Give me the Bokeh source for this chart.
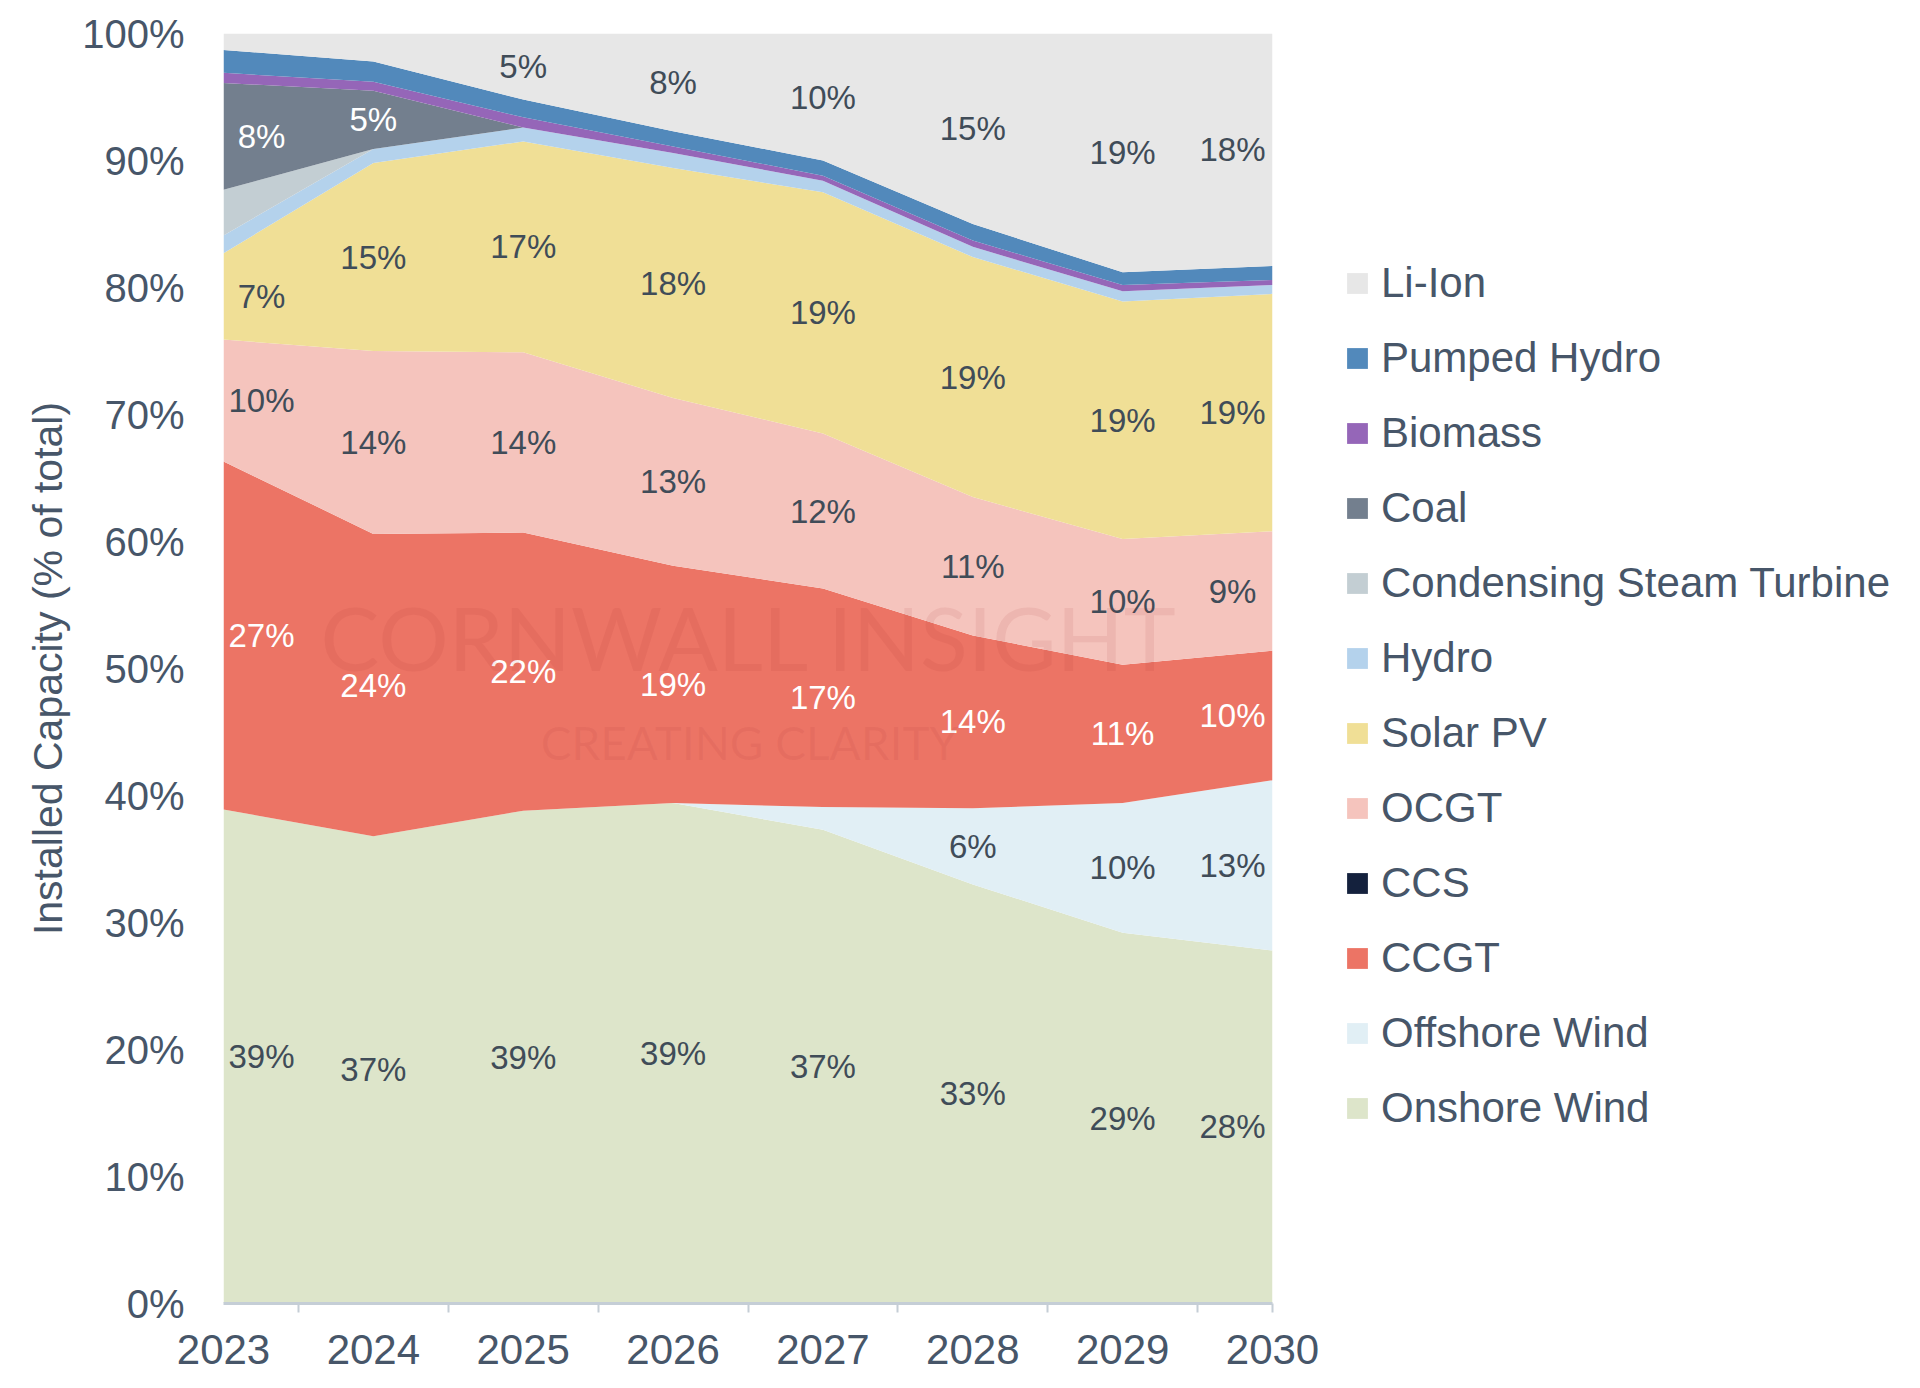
from bokeh.plotting import figure
from bokeh.models import ColumnDataSource, FixedTicker, Legend, LegendItem, Range1d, Label
from bokeh.embed import file_html
from bokeh.resources import INLINE
from bokeh.core.properties import value

# ---------------- data (share of installed capacity, %) ----------------
years = [2023, 2024, 2025, 2026, 2027, 2028, 2029, 2030]

onshore_wind = [38.9, 36.8, 38.8, 39.4, 37.3, 33.0, 29.2, 27.8]
offshore_wind = [0.0, 0.0, 0.0, 0.0, 1.8, 6.0, 10.2, 13.4]
ccgt = [27.4, 23.8, 21.9, 18.7, 17.2, 13.6, 10.9, 10.2]
ccs = [0.0, 0.0, 0.0, 0.0, 0.0, 0.0, 0.0, 0.0]
ocgt = [9.6, 14.4, 14.2, 13.2, 12.2, 10.9, 9.9, 9.4]
solar_pv = [6.8, 14.8, 16.6, 18.1, 19.0, 18.9, 18.7, 18.7]
hydro = [1.4, 1.1, 1.1, 1.2, 0.9, 0.8, 0.8, 0.7]
condensing_steam_turbine = [3.6, 0.0, 0.0, 0.0, 0.0, 0.0, 0.0, 0.0]
coal = [8.4, 4.6, 0.0, 0.0, 0.0, 0.0, 0.0, 0.0]
biomass = [0.8, 0.7, 0.8, 0.5, 0.4, 0.5, 0.5, 0.4]
pumped_hydro = [1.8, 1.6, 1.4, 1.2, 1.2, 1.3, 1.0, 1.1]
li_ion = [1.3, 2.2, 5.2, 7.7, 10.0, 15.0, 18.8, 18.3]

y_ticks = [0, 10, 20, 30, 40, 50, 60, 70, 80, 90, 100]

# bottom -> top
series = [
    ("Onshore Wind", onshore_wind, "#dde5ca", "#404c58"),
    ("Offshore Wind", offshore_wind, "#e1eff5", "#404c58"),
    ("CCGT", ccgt, "#ec7465", "#ffffff"),
    ("CCS", ccs, "#14213d", "#ffffff"),
    ("OCGT", ocgt, "#f5c4bd", "#404c58"),
    ("Solar PV", solar_pv, "#f0df96", "#404c58"),
    ("Hydro", hydro, "#b4d2ec", "#404c58"),
    ("Condensing Steam Turbine", condensing_steam_turbine, "#c3ced3", "#404c58"),
    ("Coal", coal, "#737f8e", "#ffffff"),
    ("Biomass", biomass, "#9566b8", "#ffffff"),
    ("Pumped Hydro", pumped_hydro, "#5289bb", "#ffffff"),
    ("Li-Ion", li_ion, "#e7e7e7", "#404c58"),
]

AXIS_COLOR = "#475669"
FONT = "Liberation Sans"

p = figure(
    frame_width=1049, frame_height=1270,
    x_range=Range1d(2023, 2030), y_range=Range1d(0, 100),
    output_backend="svg", toolbar_location=None,
    min_border_left=223, min_border_right=640,
    min_border_top=33, min_border_bottom=84,
)
p.outline_line_color = None
p.xgrid.visible = False
p.ygrid.visible = False
p.background_fill_color = "white"

# stacked areas
renderers = {}
bottoms = [0.0] * len(years)
lab_x, lab_y, lab_t, lab_c, lab_off = [], [], [], [], []
for name, vals, col, tcol in series:
    tops = [b + v for b, v in zip(bottoms, vals)]
    src = ColumnDataSource(dict(x=years, y1=bottoms, y2=tops))
    r = p.varea(x="x", y1="y1", y2="y2", source=src, fill_color=col)
    renderers[name] = (r, col)
    for i, (yr, v) in enumerate(zip(years, vals)):
        if v >= 4.5:
            lab_x.append(yr)
            lab_y.append((bottoms[i] + tops[i]) / 2)
            lab_t.append(f"{v:.0f}%")
            lab_c.append(tcol)
            lab_off.append(38 if i == 0 else (-40 if i == len(years) - 1 else 0))
    bottoms = tops

# watermark
p.add_layout(Label(x=2026.51, y=52.48, text="CORNWALL INSIGHT", text_align="center",
                   text_baseline="middle", text_font="Lato", text_font_size="88px",
                   text_color="#a83030", text_alpha=0.09))
p.add_layout(Label(x=2026.51, y=44.18, text="CREATING CLARITY", text_align="center",
                   text_baseline="middle", text_font="Lato", text_font_size="46px",
                   text_color="#a83030", text_alpha=0.09))

# data labels
lsrc = ColumnDataSource(dict(x=lab_x, y=lab_y, text=lab_t, color=lab_c, xo=lab_off))
p.text(x="x", y="y", text="text", source=lsrc, text_color="color", x_offset="xo",
       text_align="center", text_baseline="middle", text_font=value(FONT),
       text_font_size="33px")

# axes
p.xaxis.ticker = FixedTicker(ticks=years,
                             minor_ticks=[2023.5, 2024.5, 2025.5, 2026.5, 2027.5, 2028.5, 2029.5, 2030])
p.xaxis.major_tick_line_color = None
p.xaxis.major_tick_out = 0
p.xaxis.major_tick_in = 0
p.xaxis.minor_tick_out = 9
p.xaxis.minor_tick_in = 0
p.xaxis.minor_tick_line_color = "#c5ced6"
p.xaxis.minor_tick_line_width = 2
p.xaxis.axis_line_color = "#c5ced6"
p.xaxis.axis_line_width = 3
p.xaxis.major_label_standoff = 22
p.xaxis.major_label_text_font = FONT
p.xaxis.major_label_text_font_size = "42px"
p.xaxis.major_label_text_color = AXIS_COLOR

p.yaxis.ticker = FixedTicker(ticks=y_ticks)
p.yaxis.major_label_overrides = {t: f"{t}%" for t in y_ticks}
p.yaxis.axis_line_color = None
p.yaxis.major_tick_line_color = None
p.yaxis.minor_tick_line_color = None
p.yaxis.major_tick_out = 0
p.yaxis.major_tick_in = 0
p.yaxis.major_label_standoff = 39
p.yaxis.major_label_text_font = FONT
p.yaxis.major_label_text_font_size = "40px"
p.yaxis.major_label_text_color = AXIS_COLOR
p.yaxis.axis_label = "Installed Capacity (% of total)"
p.yaxis.axis_label_text_font = FONT
p.yaxis.axis_label_text_font_size = "41px"
p.yaxis.axis_label_text_font_style = "normal"
p.yaxis.axis_label_text_color = AXIS_COLOR
p.yaxis.axis_label_standoff = 8

# legend (top -> bottom)
items = [LegendItem(label=name, renderers=[renderers[name][0]]) for name, _, _, _ in reversed(series)]
legend = Legend(items=items, location=(72, 171), orientation="vertical",
                glyph_width=26, glyph_height=26, label_standoff=11, spacing=27,
                padding=0, margin=0, border_line_color=None, background_fill_alpha=0,
                label_text_font=FONT, label_text_font_size="42px", label_text_color=AXIS_COLOR)
p.add_layout(legend, "right")

open("out.html", "w").write(file_html(p, INLINE))
